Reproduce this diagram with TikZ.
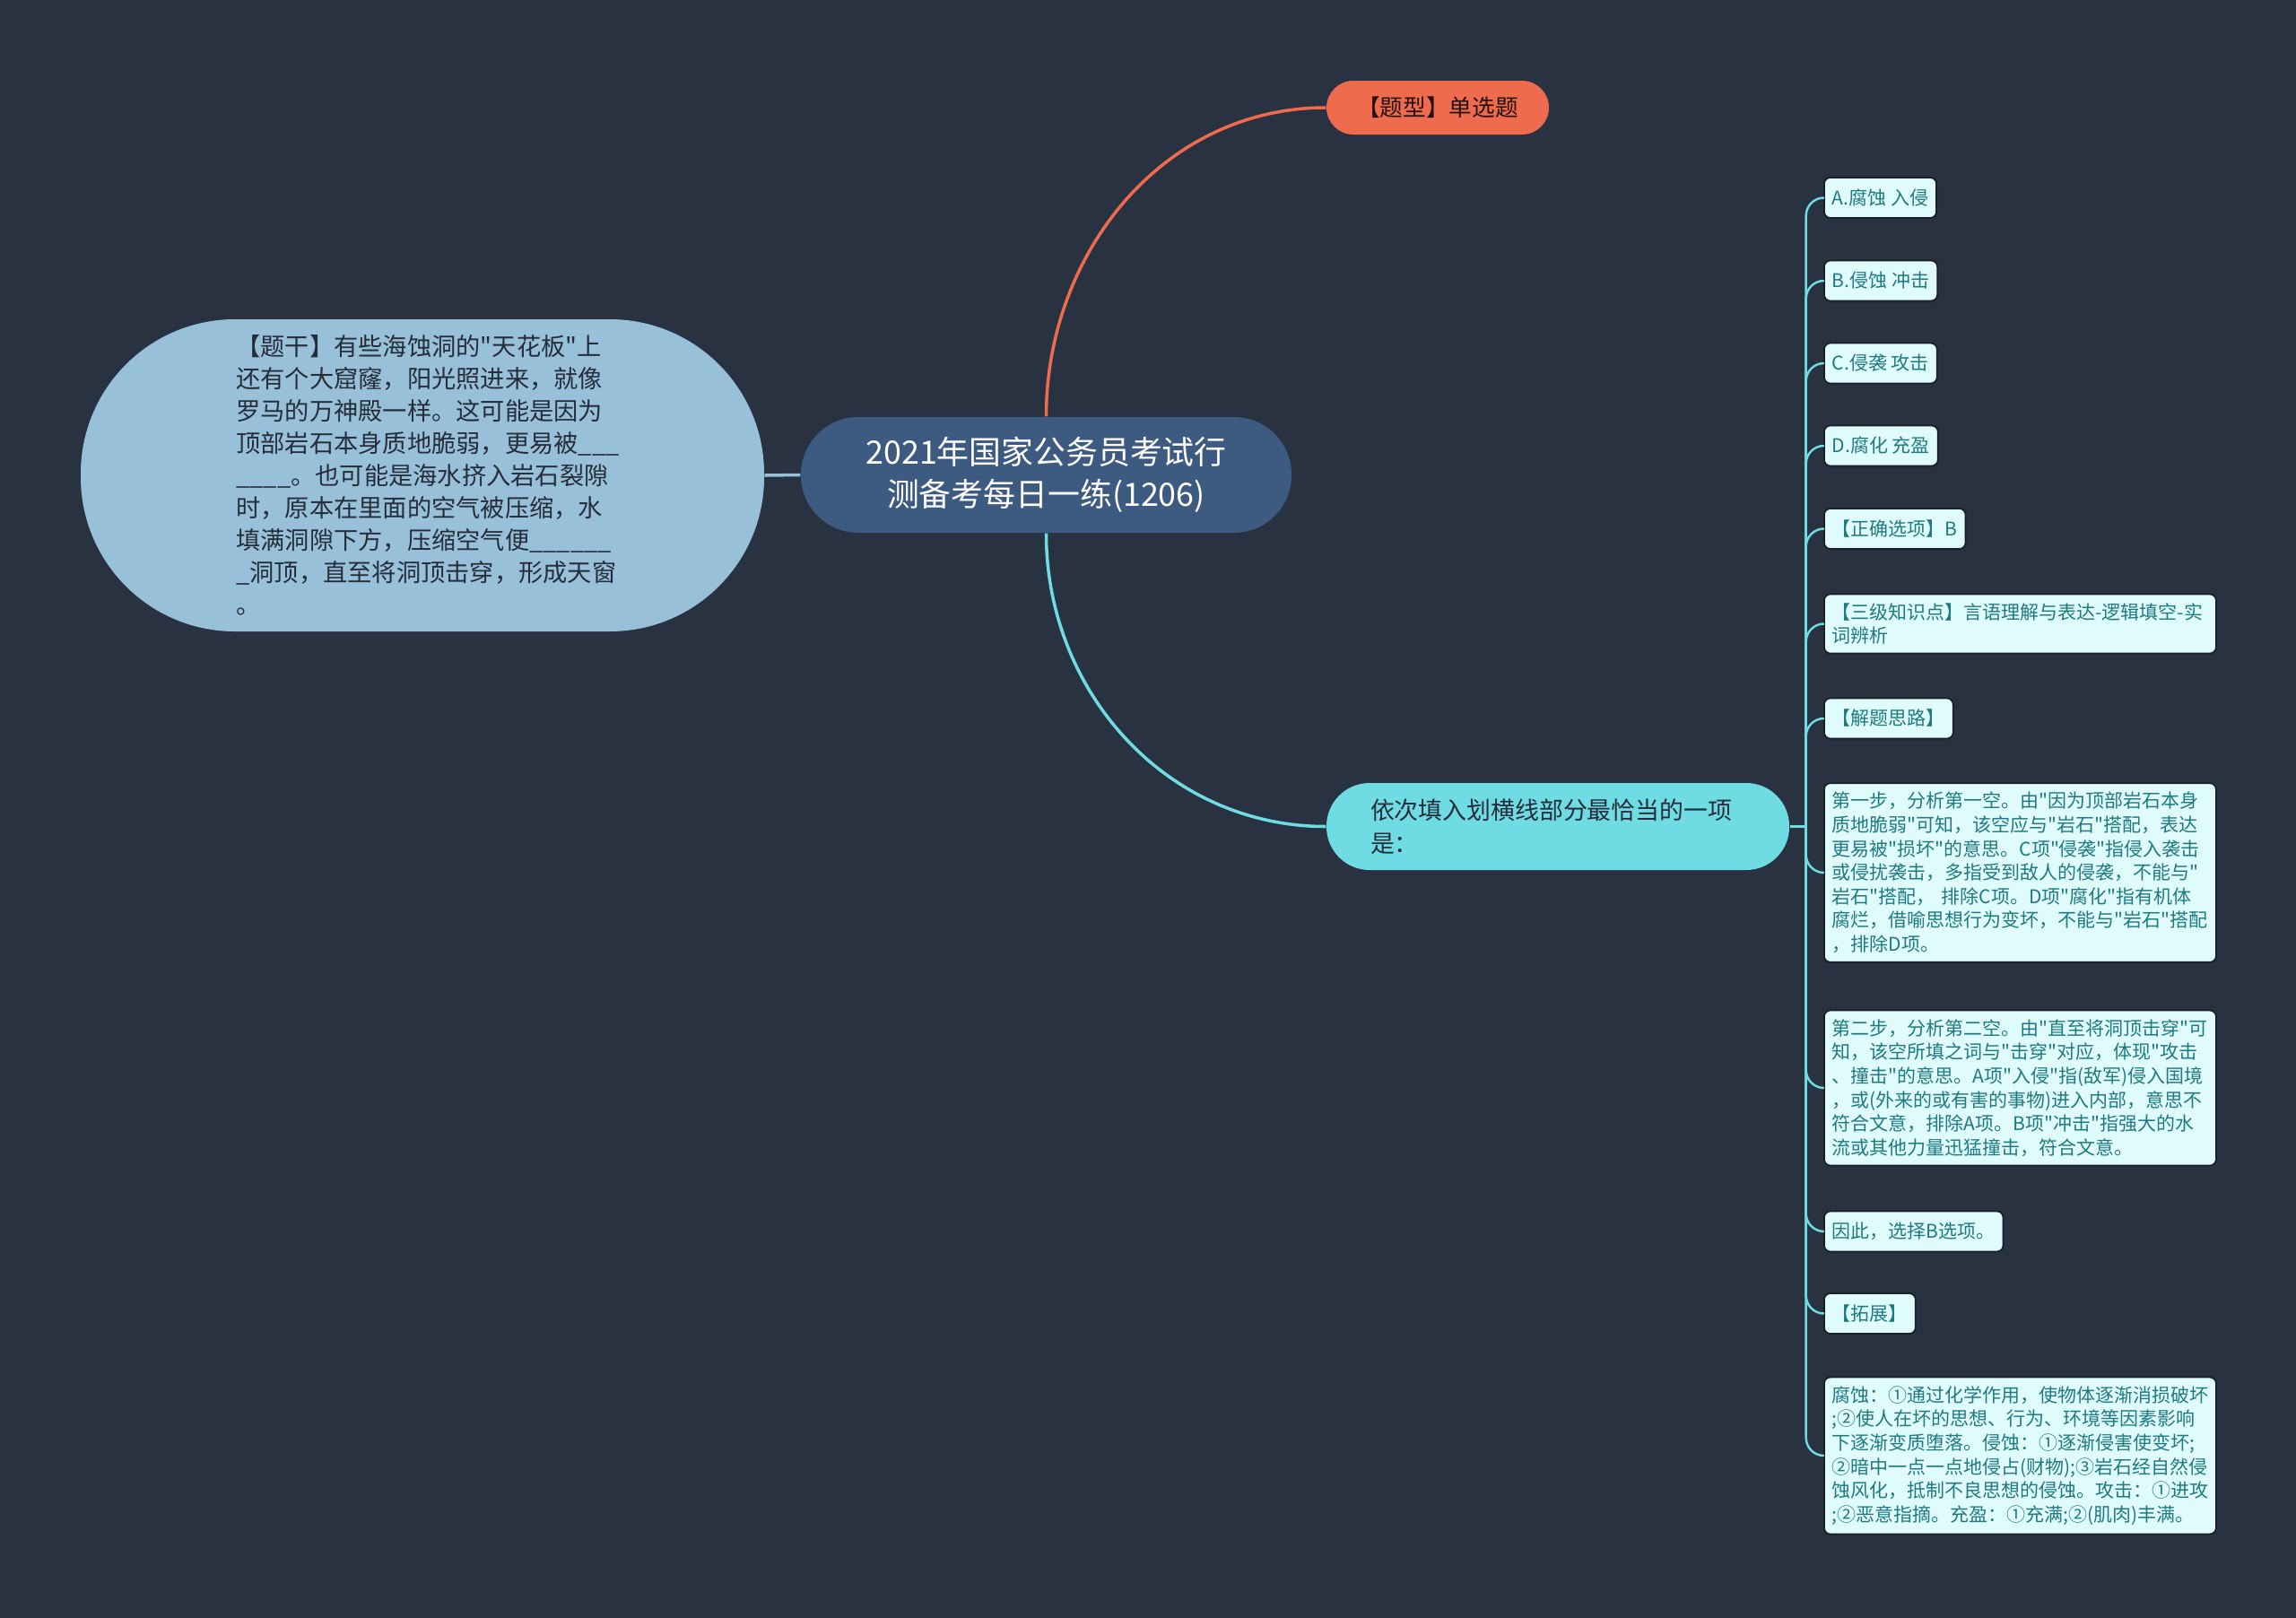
\documentclass[tikz,border=0pt]{standalone}
\usepackage{fontspec}
\usetikzlibrary{positioning, calc}
\newfontfamily\cjk{Noto Sans CJK SC}
\definecolor{sfondo}{HTML}{293241}
\definecolor{blunotte}{HTML}{3D5A80}
\definecolor{celeste}{HTML}{98C1D9}
\definecolor{corallo}{HTML}{EE6C4D}
\definecolor{ciano}{HTML}{6EDCE2}
\definecolor{ghiaccio}{HTML}{E0FBFC}
\definecolor{petrolio}{HTML}{1F7A80}

\begin{document}
\begin{tikzpicture}[
  font=\cjk,
  radice/.style={fill=blunotte, text=white, align=center, rounded corners=0.64cm,
                 minimum width=5.47cm, minimum height=1.29cm, inner sep=2pt,
                 font=\cjk\fontsize{10.2pt}{13.4pt}\selectfont},
  tipo/.style={fill=corallo, text=black!85!corallo, rounded corners=0.3cm,
               minimum width=2.48cm, minimum height=0.60cm, inner sep=2pt,
               font=\cjk\fontsize{7.3pt}{9pt}\selectfont},
  tronco/.style={fill=celeste, text=sfondo!90!black, align=left, text width=4.15cm,
                 rounded corners=1.72cm, minimum width=7.62cm, minimum height=3.48cm,
                 inner sep=2pt, font=\cjk\fontsize{7.75pt}{10.24pt}\selectfont},
  domanda/.style={fill=ciano, text=sfondo!90!black, align=left, text width=4.18cm,
                  rounded corners=0.48cm, minimum width=5.16cm, minimum height=0.97cm,
                  inner sep=2pt, font=\cjk\fontsize{7.65pt}{10.67pt}\selectfont},
  foglia/.style={fill=ghiaccio, draw=sfondo!60!black, line width=0.5pt, text=petrolio,
                 rounded corners=0.07cm, anchor=west, minimum height=0.45cm,
                 inner xsep=0.09cm, inner ysep=0.1cm,
                 font=\cjk\fontsize{5.97pt}{7.57pt}\selectfont},
  fogliona/.style={foglia, align=left, text width=4.19cm},
  ramo/.style={line width=1pt},
  rametto/.style={draw=ciano, line width=0.7pt, rounded corners=0.2cm}
]

%--------------------------------------------------------------
% Sfondo
%--------------------------------------------------------------
\path[use as bounding box, fill=sfondo] (0,0) rectangle (25.6,-18.04);

%--------------------------------------------------------------
% Nodo centrale e rami principali
%--------------------------------------------------------------
\node[radice] (centro) at (11.665,-5.295) {2021年国家公务员考试行\\测备考每日一练(1206)};
\node[tipo] (tipo) at (16.03,-1.20) {【题型】单选题};
\node[tronco] (tronco) at (4.71,-5.30)
  {【题干】有些海蚀洞的"天花板"上\\
   还有个大窟窿，阳光照进来，就像\\
   罗马的万神殿一样。这可能是因为\\
   顶部岩石本身质地脆弱，更易被\_\_\_\\
   \_\_\_\_。也可能是海水挤入岩石裂隙\\
   时，原本在里面的空气被压缩，水\\
   填满洞隙下方，压缩空气便\_\_\_\_\_\_\\
   \_洞顶，直至将洞顶击穿，形成天窗\\
   。};
\node[domanda] (domanda) at (17.37,-9.215) {依次填入划横线部分最恰当的一项\\是：};

\draw[ramo, draw=corallo] (centro.north) to[out=90, in=180] (tipo.west);
\draw[ramo, draw=ciano] (centro.south) to[out=-90, in=180] (domanda.west);
\draw[ramo, draw=celeste] (centro.west) -- (tronco.east);

%--------------------------------------------------------------
% Foglie di una riga
%--------------------------------------------------------------
\foreach \n/\y/\testo in {%
  1/-2.205/{A.腐蚀 入侵},
  2/-3.13/{B.侵蚀 冲击},
  3/-4.05/{C.侵袭 攻击},
  4/-4.97/{D.腐化 充盈},
  5/-5.895/{【正确选项】B},
  7/-8.01/{【解题思路】},
  10/-13.73/{因此，选择B选项。},
  11/-14.645/{【拓展】}}{
  \node[foglia] (foglia\n) at (20.33,\y) {\testo};
}

%--------------------------------------------------------------
% Foglie lunghe
%--------------------------------------------------------------
\node[fogliona] (foglia6) at (20.33,-6.955)
  {【三级知识点】言语理解与表达-逻辑填空-实\\词辨析};
\node[fogliona] (foglia8) at (20.33,-9.73)
  {第一步，分析第一空。由"因为顶部岩石本身\\
   质地脆弱"可知，该空应与"岩石"搭配，表达\\
   更易被"损坏"的意思。C项"侵袭"指侵入袭击\\
   或侵扰袭击，多指受到敌人的侵袭，不能与"\\
   岩石"搭配，~排除C项。D项"腐化"指有机体\\
   腐烂，借喻思想行为变坏，不能与"岩石"搭配\\
   ，排除D项。};
\node[fogliona] (foglia9) at (20.33,-12.13)
  {第二步，分析第二空。由"直至将洞顶击穿"可\\
   知，该空所填之词与"击穿"对应，体现"攻击\\
   、撞击"的意思。A项"入侵"指(敌军)侵入国境\\
   ，或(外来的或有害的事物)进入内部，意思不\\
   符合文意，排除A项。B项"冲击"指强大的水\\
   流或其他力量迅猛撞击，符合文意。};
\node[fogliona] (foglia12) at (20.33,-16.23)
  {腐蚀：①通过化学作用，使物体逐渐消损破坏\\
   ;②使人在坏的思想、行为、环境等因素影响\\
   下逐渐变质堕落。侵蚀：①逐渐侵害使变坏;\\
   ②暗中一点一点地侵占(财物);③岩石经自然侵\\
   蚀风化，抵制不良思想的侵蚀。攻击：①进攻\\
   ;②恶意指摘。充盈：①充满;②(肌肉)丰满。};

%--------------------------------------------------------------
% Collegamenti verso le foglie
%--------------------------------------------------------------
\coordinate (snodo) at ($(domanda.east)+(0.18,0)$);
\draw[rametto] (domanda.east) -- (snodo);
\foreach \n in {1,...,12}{
  \draw[rametto] (snodo) |- (foglia\n.west);
}

\end{tikzpicture}
\end{document}
